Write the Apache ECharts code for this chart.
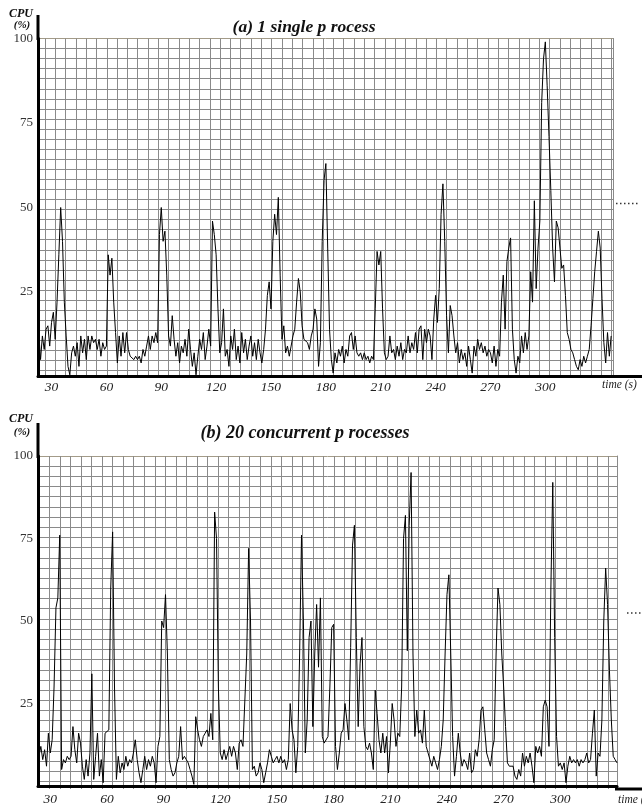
<!DOCTYPE html>
<html><head><meta charset="utf-8">
<script src="https://cdn.jsdelivr.net/npm/echarts@6/dist/echarts.min.js"></script>
<style>html,body{margin:0;padding:0;background:#fff}#c{width:642px;height:806px}</style>
</head><body><div id="c"></div>
<script>
// ---- data ----
const xTickLabels = [30, 60, 90, 120, 150, 180, 210, 240, 270, 300];
const yTickLabels = [25, 50, 75, 100];
const titleA = '(a) 1 single p rocess';
const titleB = '(b) 20 concurrent p rocesses';
const yName = ['CPU', '(%)'];
const xName = 'time (s)';

// panel (a): CPU % sampled every second, starting at t = 23 s
const startA = 23;
const cpuA = [
 13,5,12,8,14,15,9,16,19,11,
 22,36,50,40,22,12,3,0.5,7,9,
 6,10,3,12,7,11,5,12,8,12,
 10,11,8,11,6,10,8,9,36,30,
 35,22,13,4,12,6,13,7,13,8,
 6,6,5,6,5,6,4,8,6,9,
 12,8,12,10,13,10,42,50,40,43,
 30,12,9,18,11,6,10,4,9,7,
 11,6,14,8,3,7,0.5,6,11,8,
 13,5,9,14,9,46,42,36,20,7,
 10,20,6,8,3,12,8,14,5,9,
 4,13,7,11,5,9,12,6,10,5,
 11,7,4,8,14,24,28,20,40,48,
 42,53,30,11,15,7,9,6,9,12,
 14,22,29,25,15,11,11,10,8,12,
 14,20,17,3,10,40,58,
 63,38,14,5,1,7,4,8,6,9,
 4,8,6,12,13,8,12,7,6,7,
 5,7,5,6,4,6,5,20,37,33,
 37,20,7,5,6,12,7,8,5,9,
 6,10,5,8,7,12,7,10,8,13,
 7,14,15,5,14,10,14,12,5,17,
 24,16,26,48,57,40,18,7,21,18,
 12,7,10,4,8,5,7,3,9,5,
 1,9,6,11,8,10,7,9,6,8,
 7,4,9,3,8,6,22,30,14,34,
 38,41,14,5,1,6,4,12,7,13,
 8,12,31,22,52,26,38,46,81,94,
 99,86,71,55,38,28,46,44,38,32,
 33,24,13,11,8,7,5,3,2,5,
 3,6,4,6,8,15,23,31,37,43,
 38,23,10,4,13,6,12
];

// panel (b): CPU % sampled every second, starting at t = 24 s
const startB = 24;
const cpuB = [
 9,12,8,11,6,16,10,14,30,54,
 57,76,5,8,7,9,8,9,18,11,
 7,16,13,6,2,8,3,10,34,2,
 9,16,3,8,1,16,16,17,60,77,
 30,2,9,4,7,5,9,6,8,7,
 10,14,8,4,1,5,9,5,8,6,
 9,7,1,12,15,50,48,58,40,8,
 5,3,4,7,9,18,8,9,8,7,
 5,3,0.5,21,17,14,12,15,16,17,
 15,22,14,83,75,30,10,8,11,8,
 10,12,9,12,10,5,13,14,12,12,
 40,72,50,5,6,3,4,7,5,1,
 4,7,11,9,7,8,9,7,9,7,
 8,5,8,25,17,14,4,12,40,76,
 50,10,20,45,50,18,40,55,36,57,
 15,13,13,15,30,48,49,12,5,10,
 16,17,25,20,14,42,73,79,45,18,
 37,45,18,12,11,13,10,5,29,22,
 14,10,16,10,15,4,13,25,20,12,
 16,15,30,75,82,41,79,95,40,15,
 23,16,17,13,23,12,10,8,6,9,
 7,5,8,12,20,40,58,64,40,15,
 3,9,16,10,6,8,7,5,10,4,
 5,11,9,14,23,24,17,10,8,6,
 11,14,40,60,55,40,30,18,7,6,
 6,6,3,2,5,3,10,6,9,7,
 10,6,1,12,10,12,9,24,26,24,
 12,60,92,45,15,6,7,5,7,1,
 6,9,7,8,7,8,6,8,7,8,
 10,7,8,16,23,3,10,9,20,50,
 66,55,35,20,9,8,7
];

// ---- chart ----
const serif = '"Liberation Serif","Times New Roman",serif';
function pairs(start, arr) { return arr.map((v, i) => [start + i, v]); }
const gridGray = '#8a8a8a';
const hColors = ['#a39b88'].concat(new Array(60).fill(gridGray));

function mainX(gi, min, max, margin) {
  return {
    type: 'value', gridIndex: gi, min: min, max: max,
    splitLine: { show: false }, axisTick: { show: false },
    axisLine: { show: true, onZero: false, lineStyle: { color: '#000', width: 3 } },
    axisLabel: { customValues: xTickLabels, fontFamily: serif, fontStyle: 'italic',
      fontSize: 13.5, color: '#222', margin: margin }
  };
}
function vlineX(gi, max) {
  return {
    type: 'value', gridIndex: gi, min: 0, max: max, interval: 1,
    axisLine: { show: false }, axisTick: { show: false }, axisLabel: { show: false },
    splitLine: { show: true, lineStyle: { color: gridGray, width: 1 } }
  };
}
function mainY(gi) {
  return {
    type: 'value', gridIndex: gi, min: 0, max: 100,
    splitLine: { show: false }, axisTick: { show: false },
    axisLine: { show: true, onZero: false, lineStyle: { color: '#000', width: 3 } },
    axisLabel: { customValues: yTickLabels, fontFamily: serif, fontSize: 13, color: '#333', margin: 5 }
  };
}
function hlineY(gi, max) {
  return {
    type: 'value', gridIndex: gi, position: 'right', inverse: true, min: 0, max: max, interval: 1,
    axisLine: { show: true, onZero: false, lineStyle: { color: gridGray, width: 1 } },
    axisTick: { show: false }, axisLabel: { show: false },
    splitLine: { show: true, lineStyle: { color: hColors, width: 1 } }
  };
}

const font = (style, weight, size) => style + ' ' + weight + ' ' + size + 'px ' + serif;

const option = {
  animation: false,
  backgroundColor: '#fff',
  grid: [
    { left: 38, top: 38.5, width: 575, height: 338 },
    { left: 45, top: 38.5, width: 568, height: 338 },
    { left: 38, top: 456, width: 579, height: 333 },
    { left: 49.3, top: 456, width: 567.7, height: 333 }
  ],
  xAxis: [
    mainX(0, 22.6, 337, 4),
    vlineX(1, 55.15),
    mainX(2, 23.5, 330, 6),
    vlineX(3, 53.83)
  ],
  yAxis: [
    mainY(0),
    hlineY(0, 33.6),
    { type: 'value', gridIndex: 1, show: false },
    mainY(2),
    hlineY(2, 32.42),
    { type: 'value', gridIndex: 3, show: false }
  ],
  series: [
    { type: 'line', xAxisIndex: 0, yAxisIndex: 0, data: pairs(startA, cpuA),
      symbol: 'none', lineStyle: { color: '#000', width: 1 }, z: 5 },
    { type: 'line', xAxisIndex: 2, yAxisIndex: 3, data: pairs(startB, cpuB),
      symbol: 'none', lineStyle: { color: '#000', width: 1 }, z: 5 }
  ],
  graphic: [
    // axis extensions
    { type: 'line', shape: { x1: 38, y1: 15, x2: 38, y2: 40 }, style: { stroke: '#000', lineWidth: 3 }, z: 10 },
    { type: 'line', shape: { x1: 611, y1: 376.5, x2: 642, y2: 376.5 }, style: { stroke: '#000', lineWidth: 3 }, z: 10 },
    { type: 'line', shape: { x1: 38, y1: 423, x2: 38, y2: 458 }, style: { stroke: '#000', lineWidth: 3 }, z: 10 },
    { type: 'line', shape: { x1: 615, y1: 789, x2: 642, y2: 789 }, style: { stroke: '#000', lineWidth: 3 }, z: 10 },
    // dotted legend fragments
    { type: 'line', shape: { x1: 616, y1: 203.5, x2: 640, y2: 203.5 }, style: { stroke: '#333', lineWidth: 1.5, lineDash: [1.5, 2.5] } },
    { type: 'line', shape: { x1: 627, y1: 613, x2: 642, y2: 613 }, style: { stroke: '#333', lineWidth: 1.5, lineDash: [1.5, 2.5] } },
    // titles
    { type: 'text', style: { x: 304, y: 27, text: titleA, align: 'center', verticalAlign: 'middle', font: font('italic', 'bold', 17.5), fill: '#111' } },
    { type: 'text', style: { x: 305, y: 433, text: titleB, align: 'center', verticalAlign: 'middle', font: font('italic', 'bold', 18), fill: '#111' } },
    // y names
    { type: 'text', style: { x: 21, y: 14, text: yName[0], align: 'center', verticalAlign: 'middle', font: font('italic', 'bold', 12), fill: '#111' } },
    { type: 'text', style: { x: 22, y: 25.5, text: yName[1], align: 'center', verticalAlign: 'middle', font: font('italic', 'bold', 11), fill: '#111' } },
    { type: 'text', style: { x: 21, y: 419, text: yName[0], align: 'center', verticalAlign: 'middle', font: font('italic', 'bold', 12), fill: '#111' } },
    { type: 'text', style: { x: 22, y: 432.5, text: yName[1], align: 'center', verticalAlign: 'middle', font: font('italic', 'bold', 11), fill: '#111' } },
    // x names
    { type: 'text', style: { x: 602, y: 385, text: xName, align: 'left', verticalAlign: 'middle', font: font('italic', 'normal', 11.5), fill: '#222' } },
    { type: 'text', style: { x: 618, y: 800, text: xName, align: 'left', verticalAlign: 'middle', font: font('italic', 'normal', 11.5), fill: '#222' } }
  ]
};

const chart = echarts.init(document.getElementById('c'), null, { renderer: 'canvas' });
chart.setOption(option);
</script>
</body></html>
